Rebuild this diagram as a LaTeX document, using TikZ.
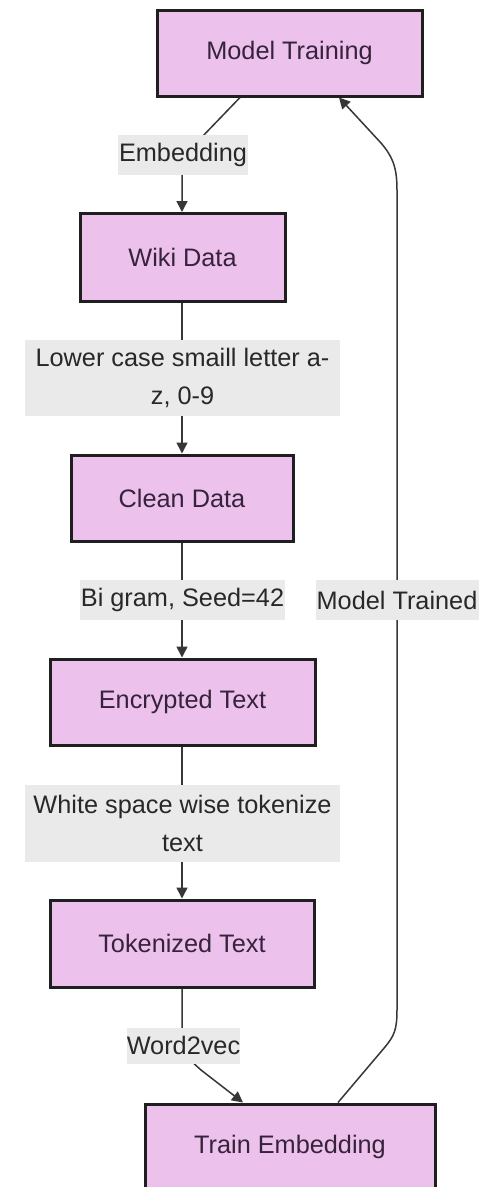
\documentclass[tikz,border=0pt]{standalone}
\usepackage{fontspec}
\setmainfont{Liberation Sans}
\usetikzlibrary{arrows.meta,calc}
\definecolor{boxfill}{RGB}{236,194,236}
\definecolor{boxtext}{RGB}{55,34,60}
\definecolor{edgecol}{RGB}{55,55,55}
\definecolor{lblfill}{RGB}{234,234,234}
\definecolor{lbltext}{RGB}{40,40,40}
\tikzset{
  stepbox/.style={draw=black!88, line width=3pt, fill=boxfill, text=boxtext,
    inner sep=0pt, font=\fontsize{25.3}{30}\selectfont},
  flow/.style={draw=edgecol, line width=1.5pt,
    -{Triangle[length=11pt,width=11pt]}},
  edgelabel/.style={fill=lblfill, text=lbltext, inner sep=0pt, align=center,
    font=\fontsize{25.3}{38}\selectfont}
}
\begin{document}
\begin{tikzpicture}[x=1pt,y=-1pt]
\useasboundingbox (0,0) rectangle (479,1187);
\fill[white] (0,0) rectangle (479,1187);
\begin{scope}
\clip (0,0) rectangle (479,1187);

% process steps
\node[stepbox, minimum width=265pt, minimum height=86pt] (mt) at (289.5,53) {Model Training};
\node[stepbox, minimum width=205pt, minimum height=88pt] (wd) at (182.5,257.5) {Wiki Data};
\node[stepbox, minimum width=222pt, minimum height=86pt] (cd) at (182,498) {Clean Data};
\node[stepbox, minimum width=265pt, minimum height=86pt] (et) at (182.5,702) {Encrypted Text};
\node[stepbox, minimum width=264pt, minimum height=87pt] (tt) at (182,943.5) {Tokenized Text};
\node[stepbox, minimum width=290pt, minimum height=86pt] (te) at (290,1147) {Train Embedding};

% connectors
\draw[flow] ([xshift=-49.5pt]mt.south) -- (200,139)
  .. controls (188,152) and (182,160) .. (182,178) -- (wd.north -| 182,0);
\draw[flow] (wd.south -| 182,0) -- (cd.north);
\draw[flow] (cd.south) -- (et.north -| 182,0);
\draw[flow] (et.south -| 182,0) -- (tt.north);
\draw[flow] (tt.south) -- (182,1040)
  .. controls (182,1054) and (190,1060) .. (201,1070) -- ([xshift=-47pt]te.north);
\draw[flow] ([xshift=48pt]te.north) -- (385,1047)
  .. controls (394,1036) and (397,1030) .. (397,1010) -- (397,190)
  .. controls (397,166) and (392,156) .. (381,143) -- ([xshift=49.5pt]mt.south);

% connector labels
\node[edgelabel, minimum width=130pt, minimum height=40pt] (l1) at (183,155) {Embedding};
\node[edgelabel, minimum width=315pt, minimum height=76pt] (l2) at (182.5,378)
  {Lower case smaill letter a-\\z, 0-9};
\node[edgelabel, minimum width=205pt, minimum height=40pt] (l3) at (182.5,600) {Bi gram, Seed=42};
\node[edgelabel, minimum width=163pt, minimum height=40pt] (l4) at (397,600) {Model Trained};
\node[edgelabel, minimum width=315pt, minimum height=77pt] (l5) at (182.5,823.5)
  {White space wise tokenize\\text};
\node[edgelabel, minimum width=113pt, minimum height=36pt] (l6) at (183.5,1045.5) {Word2vec};
\end{scope}
\end{tikzpicture}
\end{document}
